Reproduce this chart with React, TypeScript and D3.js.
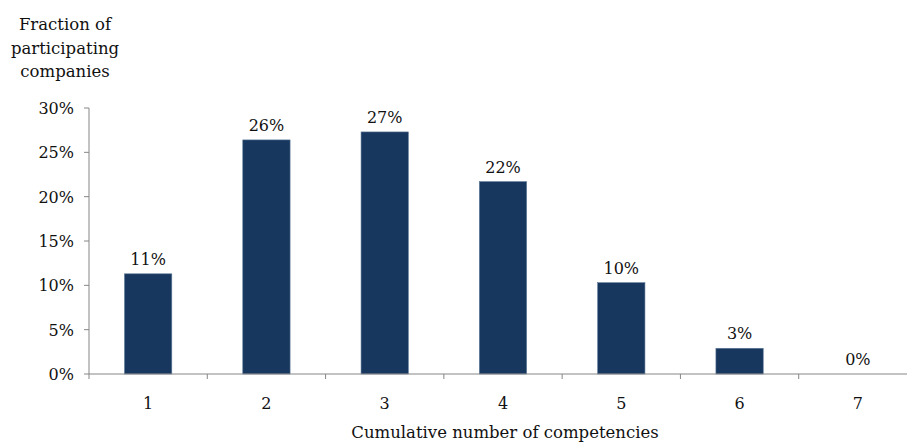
import React from "react";
import * as d3 from "d3";

const categories = ["1", "2", "3", "4", "5", "6", "7"];
const values = [11.3, 26.4, 27.3, 21.7, 10.3, 2.9, 0];
const valueLabels = ["11%", "26%", "27%", "22%", "10%", "3%", "0%"];
const yTicks = [0, 5, 10, 15, 20, 25, 30];
const titleLines = ["Fraction of", "participating", "companies"];
const xTitle = "Cumulative number of competencies";

const W = 907;
const H = 443;
const FONT = "'DejaVu Serif', 'Liberation Serif', serif";

export default function App() {
  const x0 = 89;
  const x1 = 917;
  const yBottom = 374;
  const yTop = 108;
  const x = d3.scaleBand<string>().domain(categories).range([x0, x1]).paddingInner(0).paddingOuter(0);
  const y = d3.scaleLinear().domain([0, 30]).range([yBottom, yTop]);
  const bw = x.bandwidth() * 0.4;
  const axisColor = "#868686";
  const fs = 16;

  return (
    <svg width={W} height={H} style={{ position: "absolute", left: 0, top: 0 }} fontFamily={FONT}>
      <rect x={0} y={0} width={W} height={H} fill="#fff" />
      {titleLines.map((t, i) => (
        <text key={i} x={65} y={30 + i * 23.5} textAnchor="middle" fontSize={16.5} fill="#111">
          {t}
        </text>
      ))}
      {yTicks.map((t) => (
        <g key={t}>
          <line x1={84} x2={x0} y1={y(t)} y2={y(t)} stroke={axisColor} />
          <text x={74} y={y(t) + 6} textAnchor="end" fontSize={fs} fill="#111">
            {t + "%"}
          </text>
        </g>
      ))}
      {categories.map((c, i) => {
        const cx = (x(c) as number) + x.bandwidth() / 2;
        const v = values[i];
        return (
          <g key={c}>
            {v > 0 && (
              <rect
                x={cx - bw / 2}
                y={y(v)}
                width={bw}
                height={yBottom - y(v)}
                fill="#17375E"
                stroke="#5f7a99"
                strokeWidth={0.6}
              />
            )}
            <text x={cx} y={y(v) - 9} textAnchor="middle" fontSize={fs} fill="#111">
              {valueLabels[i]}
            </text>
            <text x={cx} y={409} textAnchor="middle" fontSize={fs} fill="#111">
              {c}
            </text>
          </g>
        );
      })}
      {categories.map((c) => (
        <line key={"t" + c} x1={x(c) as number} x2={x(c) as number} y1={yBottom} y2={379} stroke={axisColor} />
      ))}
      <line x1={x0} x2={x0} y1={yTop} y2={yBottom} stroke={axisColor} />
      <line x1={x0} x2={x1} y1={yBottom} y2={yBottom} stroke={axisColor} />
      <text x={505} y={438} textAnchor="middle" fontSize={16.5} fill="#111">
        {xTitle}
      </text>
    </svg>
  );
}
